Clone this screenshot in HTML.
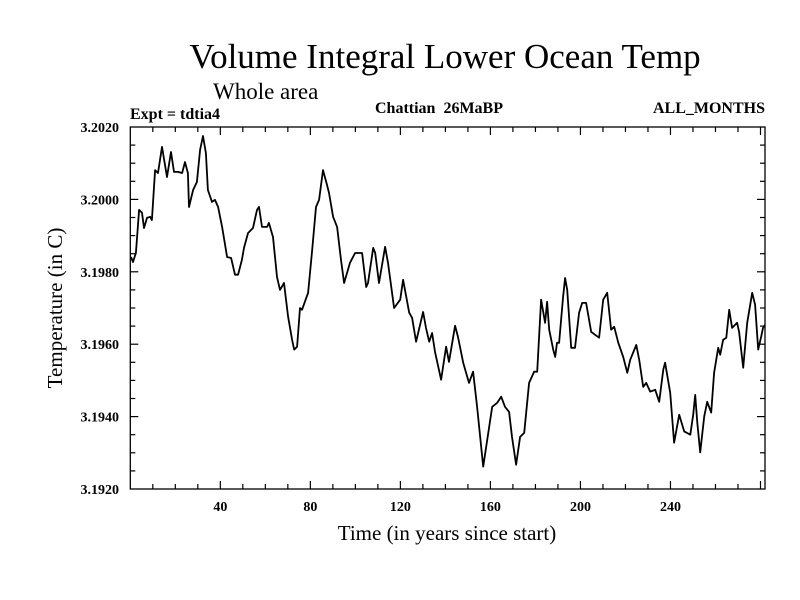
<!DOCTYPE html>
<html><head><meta charset="utf-8"><style>
html,body{margin:0;padding:0;background:#fff;}
svg{display:block;font-family:"Liberation Serif",serif;}
</style></head><body>
<svg id="chart" width="800" height="600" viewBox="0 0 800 600" xmlns="http://www.w3.org/2000/svg">
<rect width="800" height="600" fill="#fff"/>
<text x="445" y="68" font-size="35" text-anchor="middle">Volume Integral Lower Ocean Temp</text>
<text x="213" y="99" font-size="23">Whole area</text>
<text x="130" y="119" font-size="16" font-weight="bold">Expt = tdtia4</text>
<text x="375" y="113" font-size="16" font-weight="bold">Chattian&#160;&#160;26MaBP</text>
<text x="765" y="113" font-size="16" font-weight="bold" text-anchor="end">ALL_MONTHS</text>
<text x="447" y="540" font-size="21" text-anchor="middle">Time (in years since start)</text>
<text transform="translate(62,308) rotate(-90)" font-size="21" text-anchor="middle">Temperature (in C)</text>
<g id="axes"></g>
<g id="plot"></g>
</svg>
<script>
const years=[0.3,1.2,2.5,3.9,5.2,6.1,7.4,8.8,9.6,11.0,12.3,14.1,16.3,18.1,19.4,21.2,23.0,24.3,25.6,26.1,27.9,29.6,31.0,32.3,33.6,34.5,36.3,37.6,39.0,40.8,43.0,44.8,46.5,47.9,49.6,50.5,52.3,54.5,56.3,57.2,58.5,60.8,61.6,63.4,65.2,66.5,68.3,70.1,71.9,72.8,74.1,75.4,76.3,79.0,80.8,82.5,83.9,85.6,87.4,88.3,90.1,91.9,93.6,95.0,97.6,99.9,103.0,104.8,105.6,107.9,108.8,110.5,113.2,114.5,117.2,119.9,121.2,123.9,125.2,127.0,130.1,131.4,132.8,134.1,135.4,138.1,140.3,141.6,144.3,145.6,147.9,150.5,152.3,154.1,156.8,160.8,163.0,164.8,166.5,168.3,169.6,171.4,173.2,175.0,177.2,179.4,180.8,182.5,184.3,185.2,186.1,187.9,188.8,189.6,190.5,192.3,193.2,194.1,195.9,197.6,199.4,200.8,202.5,204.8,206.5,208.3,210.1,211.9,213.6,215.0,216.8,219.0,220.8,222.1,224.8,226.1,227.9,229.2,231.0,233.2,235.0,236.8,237.6,239.9,241.6,243.9,246.1,248.8,250.1,251.0,251.9,253.2,255.0,256.3,258.1,259.4,261.2,262.1,263.4,264.8,266.1,267.4,269.6,270.5,272.3,274.1,276.3,277.6,279.0,280.3,281.1,282.0];
const temps=[3.19841,3.19827,3.19852,3.19971,3.19963,3.19921,3.19949,3.19952,3.19943,3.20081,3.20073,3.20145,3.20062,3.20131,3.20076,3.20076,3.20073,3.20103,3.20073,3.19979,3.20026,3.20048,3.20137,3.20175,3.20128,3.20026,3.19993,3.19999,3.19979,3.19924,3.19841,3.19838,3.19792,3.19792,3.19833,3.19866,3.19907,3.19921,3.19971,3.19979,3.19924,3.19924,3.19935,3.19896,3.19786,3.19750,3.19769,3.19676,3.19612,3.19585,3.19593,3.19700,3.19695,3.19742,3.19861,3.19979,3.19999,3.20081,3.20040,3.20018,3.19952,3.19924,3.19833,3.19769,3.19825,3.19852,3.19852,3.19758,3.19769,3.19866,3.19852,3.19769,3.19869,3.19825,3.19700,3.19723,3.19778,3.19687,3.19673,3.19607,3.19689,3.19645,3.19607,3.19631,3.19579,3.19502,3.19593,3.19551,3.19651,3.19620,3.19549,3.19493,3.19524,3.19427,3.19262,3.19427,3.19438,3.19455,3.19427,3.19413,3.19344,3.19267,3.19344,3.19355,3.19493,3.19524,3.19524,3.19723,3.19659,3.19717,3.19640,3.19585,3.19565,3.19604,3.19604,3.19731,3.19783,3.19750,3.19590,3.19590,3.19687,3.19714,3.19714,3.19634,3.19626,3.19618,3.19723,3.19742,3.19640,3.19648,3.19604,3.19565,3.19521,3.19557,3.19598,3.19557,3.19482,3.19493,3.19469,3.19474,3.19441,3.19530,3.19549,3.19466,3.19328,3.19405,3.19359,3.19350,3.19405,3.19460,3.19383,3.19301,3.19400,3.19441,3.19411,3.19521,3.19590,3.19571,3.19612,3.19618,3.19695,3.19645,3.19659,3.19634,3.19535,3.19659,3.19742,3.19709,3.19585,3.19621,3.19645,3.19653];
const xTickLabels=[40,80,120,160,200,240];
const yTickLabels=["3.1920","3.1940","3.1960","3.1980","3.2000","3.2020"];
const yTickValues=[3.1920,3.1940,3.1960,3.1980,3.2000,3.2020];

const L=130.3,R=765,T=127,B=489,xMin=0,xMax=282,yMin=3.1920,yMax=3.2020;
const sx=v=>L+(v-xMin)/(xMax-xMin)*(R-L);
const sy=v=>B-(v-yMin)/(yMax-yMin)*(B-T);
const NS="http://www.w3.org/2000/svg";
const axes=document.getElementById('axes'),plot=document.getElementById('plot');
function mk(tag,attrs,parent){const e=document.createElementNS(NS,tag);for(const k in attrs)e.setAttribute(k,attrs[k]);parent.appendChild(e);return e;}

const frame=mk('rect',{x:L,y:T,width:R-L,height:B-T,fill:'none',stroke:'#000','stroke-width':1.3},axes);



for(let v=10;v<xMax;v+=10){
  const major=v%40===0,len=major?8:5,x=sx(v);
  const t1=mk('line',{x1:x,y1:B,x2:x,y2:B-len,stroke:'#000','stroke-width':1.2},axes);
  
  
  const t2=mk('line',{x1:x,y1:T,x2:x,y2:T+len,stroke:'#000','stroke-width':1.2},axes);
  
  
}
xTickLabels.forEach(v=>{
  const t=mk('text',{x:sx(v),y:511,'font-size':14,'font-weight':'bold','text-anchor':'middle'},axes);
  t.textContent=v;
  
  
});
for(let i=1;i<20;i++){
  const v=yMin+i*0.0005,y=sy(v),major=i%4===0,len=major?8:5;
  const t1=mk('line',{x1:L,y1:y,x2:L+len,y2:y,stroke:'#000','stroke-width':1.2},axes);
  
  
  const t2=mk('line',{x1:R,y1:y,x2:R-len,y2:y,stroke:'#000','stroke-width':1.2},axes);
  
  
}
yTickValues.forEach((v,i)=>{
  const t=mk('text',{x:119,y:sy(v)+5,'font-size':14,'font-weight':'bold','text-anchor':'end'},axes);
  t.textContent=yTickLabels[i];
  
  
});
const d=years.map((y,i)=>(i?'L':'M')+sx(y).toFixed(1)+','+sy(temps[i]).toFixed(1)).join(' ');
const line=mk('path',{d:d,fill:'none',stroke:'#000','stroke-width':1.8,'stroke-linejoin':'round'},plot);


</script>
</body></html>
